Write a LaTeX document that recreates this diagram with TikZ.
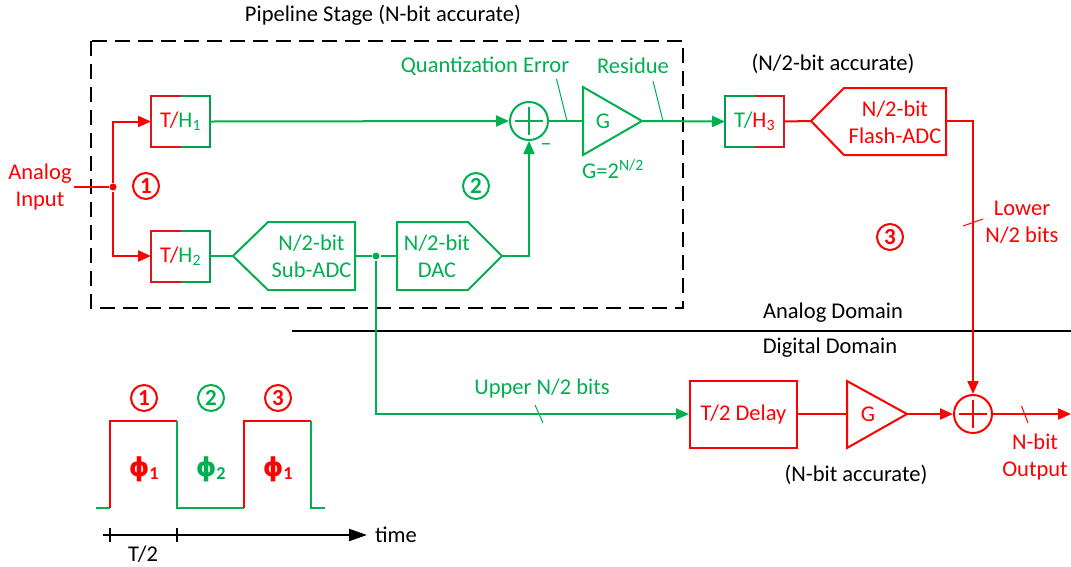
\documentclass[tikz,border=0pt]{standalone}
\usepackage{fontspec}
\setmainfont{Carlito}
\newfontfamily\dejavu{DejaVu Sans}
\usetikzlibrary{arrows.meta,calc}
\definecolor{rd}{RGB}{255,0,0}
\definecolor{gn}{RGB}{0,176,80}
\definecolor{rdk}{RGB}{215,25,25}
\definecolor{gnk}{RGB}{0,160,75}
\tikzset{
  wire/.style={line width=2pt},
  thin/.style={line width=1pt},
  txt/.style={inner sep=1pt,align=center},
  blockbox/.style={inner sep=0pt,align=center},
  cnum/.style={circle,draw,line width=2pt,inner sep=0pt,minimum size=26pt,font=\fontsize{23}{23}\selectfont\bfseries},
  summer/.style={circle,draw,line width=2pt,minimum size=38pt,inner sep=0pt},
  th/.style={minimum width=57pt,minimum height=49pt,inner sep=0pt},
  dot/.style={circle,fill,inner sep=0pt,minimum size=7pt},
  arr/.style={-{Triangle[length=13pt,width=11pt]}},
  phil/.style={inner sep=1pt,font=\fontsize{26}{26}\selectfont\bfseries},
}
\begin{document}
\begin{tikzpicture}[x=1pt,y=-1pt,font=\fontsize{22.5}{27}\selectfont,line width=2pt]
\useasboundingbox (0,0) rectangle (1071,566);

% pipeline stage box
\draw[black,line width=2pt,dash pattern=on 15pt off 8pt] (91,41) rectangle (683,308);
\node[txt] (ttl) at (383,15) {Pipeline Stage (N-bit accurate)};

% analog input
\node[txt,rd] (ain) at (40,187) {Analog\\Input};
\node[dot,rd] (split) at (113,187) {};
\draw[wire,rd] (ain.east) -- (split);

% T/H1
\node[th] (th1) at (180.5,121.5) {\textcolor{rd}{T/}\textcolor{gn}{H\textsubscript{1}}};
\draw[wire,rdk] (th1.north) -- (th1.north west) -- (th1.south west) -- (th1.south);
\draw[wire,gnk] (th1.north) -- (th1.north east) -- (th1.south east) -- (th1.south);
% T/H2
\node[th] (th2) at (180.5,256) {\textcolor{rd}{T/}\textcolor{gn}{H\textsubscript{2}}};
\draw[wire,rdk] (th2.north) -- (th2.north west) -- (th2.south west) -- (th2.south);
\draw[wire,gnk] (th2.north) -- (th2.north east) -- (th2.south east) -- (th2.south);

\draw[wire,rd,arr] (split) |- (th1.west);
\draw[wire,rd,arr] (split) |- (th2.west);
\node[cnum,rd] (c1) at (146,186) {1};

% Sub-ADC
\node[blockbox,gn] (sub) at (311.5,256) {N/2-bit\\Sub-ADC};
\coordinate (subin) at (233,256);
\coordinate (subout) at (355,256);
\draw[wire,gn] (subin) -- (268,222) -- (355,222) -- (355,290) -- (268,290) -- cycle;
\draw[wire,gn] (th2.east) -- (subin);

% DAC
\node[blockbox,gn] (dac) at (437,256) {N/2-bit\\DAC};
\coordinate (dacin) at (397,256);
\coordinate (dacout) at (502,256);
\draw[wire,gn] (397,222) -- (468,222) -- (dacout) -- (468,290) -- (397,290) -- cycle;
\node[dot,gn] (gdot) at (376,256) {};
\draw[wire,gn] (subout) -- (gdot) -- (dacin);

% summer 1
\node[summer,gn] (sum1) at (529,121) {};
\draw[wire,gn] ($(sum1.center)+(-14,0)$) -- ($(sum1.center)+(14,0)$);
\draw[wire,gn] ($(sum1.center)+(0,-14)$) -- ($(sum1.center)+(0,14)$);
\node[txt,gn] (minus) at (546,147) {\textendash};
\draw[wire,gn,arr] (th1.east) -- (sum1.west);
\draw[wire,gn,arr] (dacout) -| (sum1.south);
\node[cnum,gn] (c2) at (476,186) {2};

% amplifier G
\coordinate (ampin) at (583,121);
\coordinate (ampout) at (642,121);
\draw[wire,gn] (583,87) -- (ampout) -- (583,155) -- cycle;
\node[txt,gn] (gl) at (603,121) {G};
\node[txt,gn] (geq) at (613,169) {G=2\textsuperscript{N/2}};
\draw[wire,gn] (sum1.east) -- (ampin);

\node[txt,gn] (qe) at (485,66) {Quantization Error};
\node[txt,gn] (res) at (633,66) {Residue};
\coordinate (qet) at (567,121);
\coordinate (rest) at (663,121);
\draw[thin,gn] (556.5,79) -- (qet);
\draw[thin,gn] (653,81) -- (rest);

% T/H3
\node[th] (th3) at (754.5,121.5) {\textcolor{gn}{T/}\textcolor{rd}{H\textsubscript{3}}};
\draw[wire,gnk] (th3.north) -- (th3.north west) -- (th3.south west) -- (th3.south);
\draw[wire,rdk] (th3.north) -- (th3.north east) -- (th3.south east) -- (th3.south);
\draw[wire,gn,arr] (ampout) -- (th3.west);
\node[txt] (acc2) at (833,64) {(N/2-bit accurate)};

% Flash ADC
\node[blockbox,rd] (fl) at (895,122) {N/2-bit\\Flash-ADC};
\coordinate (flin) at (811,121);
\coordinate (flout) at (946,121);
\draw[wire,rd] (flin) -- (844,88) -- (946,88) -- (946,155) -- (844,155) -- cycle;
\draw[wire,rd] (th3.east) -- (flin);

% domain line
\coordinate (dl) at (292,331);
\coordinate (dr) at (1071,331);
\draw[line width=2.4pt,black] (dl) -- (dr);
\node[txt] (ad) at (833,313) {Analog Domain};
\node[txt] (dd) at (830,348) {Digital Domain};

% digital part
\node[minimum width=107pt,minimum height=67pt,inner sep=0pt,draw,rd,wire] (dly) at (743.5,414) {T/2 Delay};
\coordinate (g2in) at (847,414);
\coordinate (g2out) at (907,414);
\draw[wire,rd] (847,381) -- (g2out) -- (847,448) -- cycle;
\node[txt,rd] (g2l) at (868,414) {G};
\node[summer,rd] (sum2) at (973,414) {};
\draw[wire,rd] ($(sum2.center)+(-14,0)$) -- ($(sum2.center)+(14,0)$);
\draw[wire,rd] ($(sum2.center)+(0,-14)$) -- ($(sum2.center)+(0,14)$);
\draw[wire,rd] (dly.east) -- (g2in);
\draw[wire,rd,arr] (g2out) -- (sum2.west);
\draw[wire,rd,arr] (flout) -| (sum2.north);
\coordinate (outend) at (1071,414);
\draw[wire,rd,arr] (sum2.east) -- (outend);
\draw[thin,rd] (1021.5,406) -- (1028,423);
\node[txt,rd] (nout) at (1035,457) {N-bit\\Output};
\node[txt] (acc3) at (856,475) {(N-bit accurate)};

\draw[thin,rd] (963,226) -- (983,219);
\node[txt,rd] (low) at (1022,222) {Lower\\N/2 bits};
\node[cnum,rd] (c3) at (890,237) {3};

% upper bits path
\draw[wire,gn,arr] (gdot) |- (dly.west);
\draw[thin,gn] (535,405) -- (543,423);
\node[txt,gn] (up) at (542,388) {Upper N/2 bits};

% timing diagram
\draw[line width=2pt,gn] (96,508) -- (110,508);
\draw[line width=2pt,rd] (110,508) -- (110,421) -- (177,421);
\draw[line width=2pt,gn] (177,421) -- (177,508) -- (244,508);
\draw[line width=2pt,rd] (244,508) -- (244,421) -- (311,421);
\draw[line width=2pt,gn] (311,421) -- (311,508) -- (325,508);
\node[cnum,rd] (t1) at (144,398) {1};
\node[cnum,gn] (t2) at (211,398) {2};
\node[cnum,rd] (t3) at (278,398) {3};
\node[phil,rd] (p1) at (144,469) {{\dejavu ϕ}\textsubscript{1}};
\node[phil,gn] (p2) at (211,469) {{\dejavu ϕ}\textsubscript{2}};
\node[phil,rd] (p3) at (278,469) {{\dejavu ϕ}\textsubscript{1}};
\coordinate (ta) at (103,535);
\coordinate (tb) at (367,535);
\draw[line width=2pt,black,-{Triangle[length=18pt,width=12pt]}] (ta) -- (tb);
\draw[line width=1.4pt] (110,528) -- (110,542);
\draw[line width=1.4pt] (177,528) -- (177,542);
\node[txt,anchor=west] (time) at (373,535) {time};
\node[txt] (th2l) at (143,554) {T/2};
\end{tikzpicture}
\end{document}
